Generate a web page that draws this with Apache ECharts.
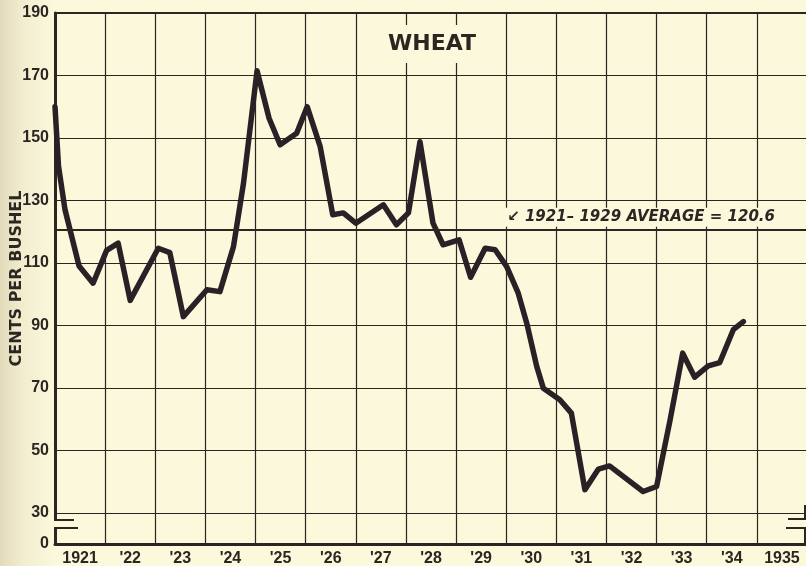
<!DOCTYPE html>
<html>
<head>
<meta charset="utf-8">
<title>Wheat</title>
<script src="https://cdn.jsdelivr.net/npm/echarts@6/dist/echarts.min.js"></script>
<style>
    html, body { margin: 0; padding: 0; }
    body { background: linear-gradient(to right, #e2dabb 0, #f2edcf 22px, #fbf8dc 55px, #fbf8dc 100%); }
    #chart { width: 806px; height: 566px; }
</style>
</head>
<body>
<div id="chart"></div>
<script>
// year labels under the axis (one per band)
var yearLabels = ['1921', "'22", "'23", "'24", "'25", "'26", "'27", "'28", "'29", "'30", "'31", "'32", "'33", "'34", '1935'];

// time of each vertex of the price line, in years
var pointTimes = [
    1921.00, 1921.07, 1921.20, 1921.48, 1921.76,
    1922.03, 1922.26, 1922.50,
    1923.06, 1923.29, 1923.56,
    1924.03, 1924.29, 1924.56, 1924.76,
    1925.03, 1925.27, 1925.49, 1925.82,
    1926.03, 1926.29, 1926.54, 1926.75,
    1927.00, 1927.55, 1927.81,
    1928.05, 1928.28, 1928.54, 1928.74,
    1929.06, 1929.29, 1929.58, 1929.78,
    1930.01, 1930.24, 1930.41, 1930.61, 1930.74,
    1931.07, 1931.30, 1931.57, 1931.84,
    1932.06, 1932.73,
    1933.00, 1933.27, 1933.52, 1933.76,
    1934.03, 1934.26, 1934.53, 1934.73
];

// wheat price, cents per bushel
var wheatCents = [
    160, 141, 127, 109, 103.5,
    114, 116.3, 98,
    114.7, 113.3, 92.8,
    101.4, 100.8, 115.2, 135.5,
    171.5, 156.3, 147.8, 151.5,
    160, 147.2, 125.4, 126,
    122.7, 128.6, 122.2,
    126, 148.8, 122.7, 115.8,
    117.4, 105.4, 114.7, 114.2,
    108.8, 100.3, 90.7, 76.8, 69.9,
    66.2, 61.9, 37.4, 44,
    45, 36.8,
    38.4, 59.8, 81.1, 73.4,
    77, 78.1, 88.6, 91.2
];

// 1921-1929 average
var averageCents = 120.6;

// y axis: broken between 0 and 30, the bottom edge (value 20) carries the "0" label
var yBottom = 20;
var yTop = 190;

var paper = '#fbf8dc';
var ink = '#2b2622';

var lineData = pointTimes.map(function (t, i) { return [t, wheatCents[i]]; });

var chart = echarts.init(document.getElementById('chart'));

var option = {
    animation: false,
    backgroundColor: 'transparent',
    title: {
        text: 'WHEAT',
        left: 381,
        top: 25,
        padding: [8, 7],
        backgroundColor: paper,
        textStyle: { fontFamily: 'DejaVu Sans', fontSize: 22, fontWeight: 'bold', color: ink }
    },
    grid: {
        left: 55, top: 13, right: -1, bottom: 22,
        outerBoundsMode: 'none',
        containLabel: false,
        show: true, borderColor: ink, borderWidth: 2, backgroundColor: 'transparent'
    },
    xAxis: [{
        type: 'value',
        min: 1921, max: 1936, interval: 1,
        axisLine: { lineStyle: { color: ink, width: 3 } },
        axisTick: { show: false },
        axisLabel: { show: false },
        splitLine: { lineStyle: { color: ink, width: 1.2 } }
    }, {
        type: 'category',
        position: 'bottom',
        data: yearLabels,
        boundaryGap: true,
        axisLine: { show: false },
        axisTick: { show: false },
        splitLine: { show: false },
        axisLabel: {
            margin: 7,
            color: ink,
            fontFamily: 'Liberation Sans',
            fontWeight: 'bold',
            fontSize: 16
        }
    }],
    yAxis: {
        type: 'value',
        min: yBottom, max: yTop, interval: 10,
        name: 'CENTS PER BUSHEL',
        nameLocation: 'middle',
        nameRotate: 90,
        nameGap: 30,
        nameMoveOverlap: false,
        nameTextStyle: { fontFamily: 'DejaVu Sans', fontWeight: 'bold', fontSize: 16, color: ink },
        axisLine: { show: true, lineStyle: { color: ink, width: 3 } },
        axisTick: { show: false },
        axisLabel: {
            margin: 6,
            color: ink,
            fontFamily: 'Liberation Sans',
            fontWeight: 'bold',
            fontSize: 16,
            formatter: function (v) {
                if (v === yBottom) return '0';
                return (v - 30) % 20 === 0 ? String(v) : '';
            }
        },
        // only every other line (30, 50, ... 190) is drawn
        splitLine: { lineStyle: { color: ['rgba(0,0,0,0)', ink], width: 1.2 } }
    },
    series: [{
        type: 'line',
        xAxisIndex: 0,
        data: lineData,
        symbol: 'none',
        lineStyle: { color: '#2a2126', width: 5.5, join: 'round', cap: 'round' },
        markLine: {
            silent: true,
            symbol: 'none',
            lineStyle: { color: ink, width: 2, type: 'solid' },
            label: {
                position: 'insideEndTop',
                distance: [28, 3],
                formatter: '\u2199 1921\u2013 1929 AVERAGE = ' + averageCents,
                fontFamily: 'DejaVu Sans',
                fontStyle: 'italic',
                fontWeight: 'bold',
                fontSize: 15,
                color: ink,
                backgroundColor: paper,
                padding: [2, 4]
            },
            data: [{ yAxis: averageCents }]
        }
    }],
    graphic: [
        // break in the left axis
        { type: 'rect', z: 100, shape: { x: 50, y: 521, width: 10, height: 6 }, style: { fill: paper } },
        { type: 'line', z: 101, shape: { x1: 54, y1: 520, x2: 74, y2: 520 }, style: { stroke: ink, lineWidth: 2 } },
        { type: 'line', z: 101, shape: { x1: 54, y1: 528, x2: 78, y2: 528 }, style: { stroke: ink, lineWidth: 2 } },
        // break at the right edge
        { type: 'line', z: 101, shape: { x1: 788, y1: 519, x2: 806, y2: 519 }, style: { stroke: ink, lineWidth: 2 } },
        { type: 'line', z: 101, shape: { x1: 786, y1: 528, x2: 806, y2: 528 }, style: { stroke: ink, lineWidth: 2 } },
        { type: 'line', z: 101, shape: { x1: 805, y1: 528, x2: 805, y2: 544 }, style: { stroke: ink, lineWidth: 2 } },
        { type: 'line', z: 101, shape: { x1: 805, y1: 505, x2: 805, y2: 519 }, style: { stroke: ink, lineWidth: 2 } }
    ]
};

chart.setOption(option);
</script>
</body>
</html>
